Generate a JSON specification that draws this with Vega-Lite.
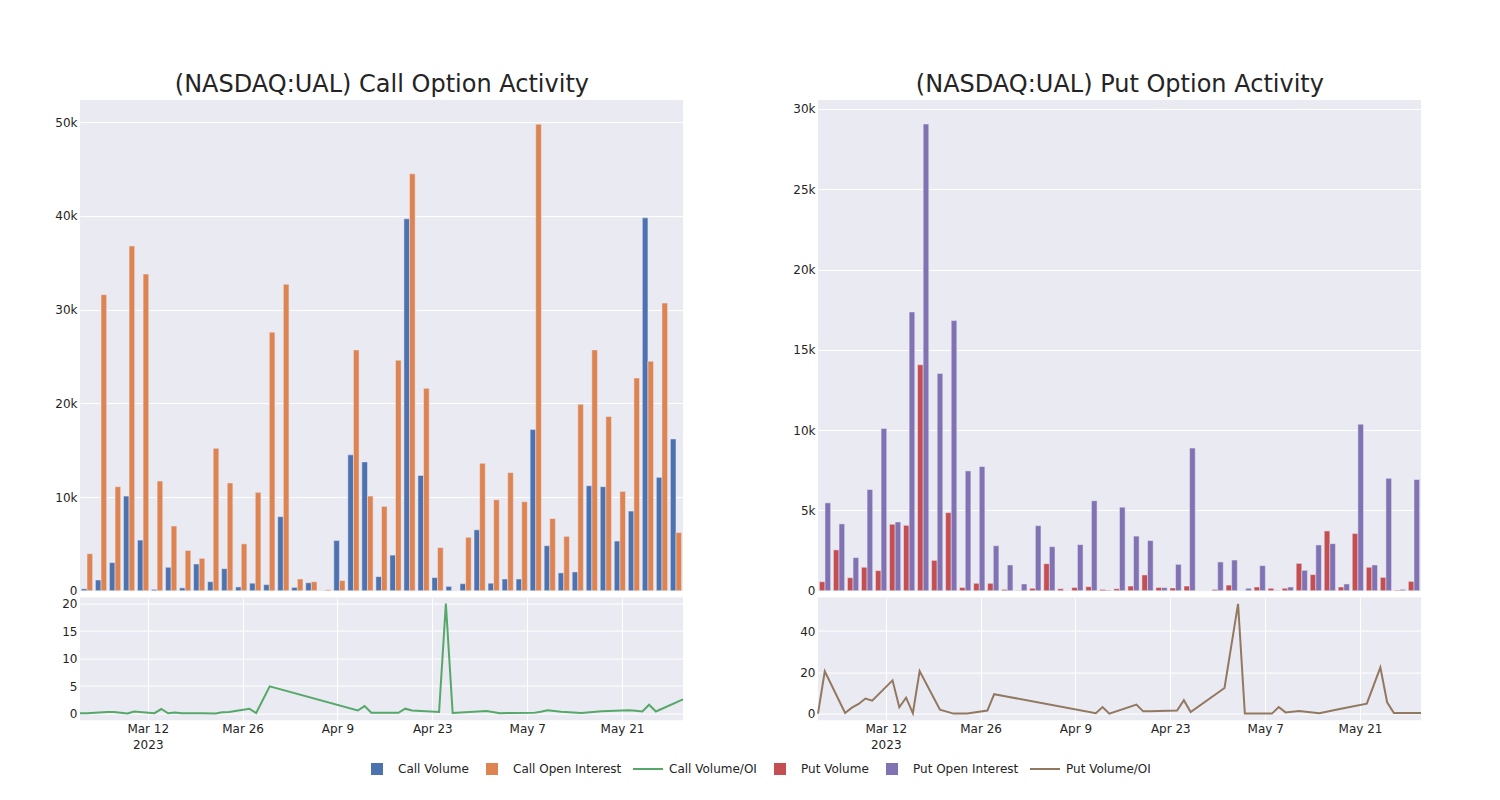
{
  "$schema": "https://vega.github.io/schema/vega-lite/v6.json",
  "background": "white",
  "padding": {"left": 54, "top": 73, "right": 78, "bottom": 10},
  "spacing": 105,
  "resolve": {"scale": {"xOffset": "independent"}},
  "datasets": {
    "d": [
      {"date": "2023-03-02", "Call Volume": 200, "Call Open Interest": 3950, "Put Volume": 560, "Put Open Interest": 5470, "Call Volume/OI": 0.05, "Put Volume/OI": 0},
      {"date": "2023-03-03", "Call Volume": 1140, "Call Open Interest": 31600, "Put Volume": 2540, "Put Open Interest": 4160, "Call Volume/OI": 0.04, "Put Volume/OI": 20.5},
      {"date": "2023-03-06", "Call Volume": 3000, "Call Open Interest": 11100, "Put Volume": 810, "Put Open Interest": 2060, "Call Volume/OI": 0.27, "Put Volume/OI": 0.3},
      {"date": "2023-03-07", "Call Volume": 10100, "Call Open Interest": 36800, "Put Volume": 1460, "Put Open Interest": 6300, "Call Volume/OI": 0.27, "Put Volume/OI": 2.9},
      {"date": "2023-03-08", "Call Volume": 5400, "Call Open Interest": 33800, "Put Volume": 1250, "Put Open Interest": 10100, "Call Volume/OI": 0.16, "Put Volume/OI": 4.7},
      {"date": "2023-03-09", "Call Volume": 140, "Call Open Interest": 11700, "Put Volume": 4140, "Put Open Interest": 4280, "Call Volume/OI": 0.01, "Put Volume/OI": 7.3},
      {"date": "2023-03-10", "Call Volume": 2500, "Call Open Interest": 6900, "Put Volume": 4070, "Put Open Interest": 17360, "Call Volume/OI": 0.36, "Put Volume/OI": 6.3},
      {"date": "2023-03-13", "Call Volume": 300, "Call Open Interest": 4300, "Put Volume": 14070, "Put Open Interest": 29060, "Call Volume/OI": 0.07, "Put Volume/OI": 16.1},
      {"date": "2023-03-14", "Call Volume": 2850, "Call Open Interest": 3450, "Put Volume": 1890, "Put Open Interest": 13530, "Call Volume/OI": 0.83, "Put Volume/OI": 3.1},
      {"date": "2023-03-15", "Call Volume": 960, "Call Open Interest": 15200, "Put Volume": 4860, "Put Open Interest": 16820, "Call Volume/OI": 0.06, "Put Volume/OI": 7.7},
      {"date": "2023-03-16", "Call Volume": 2350, "Call Open Interest": 11500, "Put Volume": 200, "Put Open Interest": 7460, "Call Volume/OI": 0.2, "Put Volume/OI": 0.2},
      {"date": "2023-03-17", "Call Volume": 400, "Call Open Interest": 5000, "Put Volume": 460, "Put Open Interest": 7730, "Call Volume/OI": 0.08, "Put Volume/OI": 20.6},
      {"date": "2023-03-20", "Call Volume": 800, "Call Open Interest": 10500, "Put Volume": 460, "Put Open Interest": 2800, "Call Volume/OI": 0.08, "Put Volume/OI": 1.9},
      {"date": "2023-03-22", "Call Volume": 650, "Call Open Interest": 27600, "Put Volume": 80, "Put Open Interest": 1600, "Call Volume/OI": 0.02, "Put Volume/OI": 0},
      {"date": "2023-03-23", "Call Volume": 7900, "Call Open Interest": 32700, "Put Volume": 20, "Put Open Interest": 420, "Call Volume/OI": 0.24, "Put Volume/OI": 0},
      {"date": "2023-03-24", "Call Volume": 350, "Call Open Interest": 1250, "Put Volume": 150, "Put Open Interest": 4050, "Call Volume/OI": 0.28, "Put Volume/OI": 0},
      {"date": "2023-03-27", "Call Volume": 850, "Call Open Interest": 960, "Put Volume": 1680, "Put Open Interest": 2740, "Call Volume/OI": 0.89, "Put Volume/OI": 1.5},
      {"date": "2023-03-28", "Call Volume": 10, "Call Open Interest": 100, "Put Volume": 120, "Put Open Interest": 10, "Call Volume/OI": 0.1, "Put Volume/OI": 9.4},
      {"date": "2023-03-30", "Call Volume": 5350, "Call Open Interest": 1080, "Put Volume": 200, "Put Open Interest": 2870, "Call Volume/OI": 4.95, "Put Volume/OI": 8.2},
      {"date": "2023-04-12", "Call Volume": 14500, "Call Open Interest": 25700, "Put Volume": 250, "Put Open Interest": 5600, "Call Volume/OI": 0.56, "Put Volume/OI": 0.2},
      {"date": "2023-04-13", "Call Volume": 13750, "Call Open Interest": 10100, "Put Volume": 80, "Put Open Interest": 40, "Call Volume/OI": 1.36, "Put Volume/OI": 3.2},
      {"date": "2023-04-14", "Call Volume": 1500, "Call Open Interest": 9000, "Put Volume": 120, "Put Open Interest": 5200, "Call Volume/OI": 0.17, "Put Volume/OI": 0},
      {"date": "2023-04-18", "Call Volume": 3800, "Call Open Interest": 24600, "Put Volume": 290, "Put Open Interest": 3400, "Call Volume/OI": 0.15, "Put Volume/OI": 4.4},
      {"date": "2023-04-19", "Call Volume": 39700, "Call Open Interest": 44500, "Put Volume": 980, "Put Open Interest": 3120, "Call Volume/OI": 0.89, "Put Volume/OI": 1.1},
      {"date": "2023-04-20", "Call Volume": 12300, "Call Open Interest": 21600, "Put Volume": 200, "Put Open Interest": 190, "Call Volume/OI": 0.57, "Put Volume/OI": 1.2},
      {"date": "2023-04-24", "Call Volume": 1400, "Call Open Interest": 4600, "Put Volume": 170, "Put Open Interest": 1640, "Call Volume/OI": 0.3, "Put Volume/OI": 1.5},
      {"date": "2023-04-25", "Call Volume": 460, "Call Open Interest": 23, "Put Volume": 290, "Put Open Interest": 8880, "Call Volume/OI": 20.0, "Put Volume/OI": 6.5},
      {"date": "2023-04-26", "Call Volume": 750, "Call Open Interest": 5700, "Put Volume": 0, "Put Open Interest": 0, "Call Volume/OI": 0.13, "Put Volume/OI": 0.8},
      {"date": "2023-05-01", "Call Volume": 6500, "Call Open Interest": 13600, "Put Volume": 80, "Put Open Interest": 1790, "Call Volume/OI": 0.48, "Put Volume/OI": 12.4},
      {"date": "2023-05-03", "Call Volume": 800, "Call Open Interest": 9700, "Put Volume": 350, "Put Open Interest": 1910, "Call Volume/OI": 0.08, "Put Volume/OI": 53.2},
      {"date": "2023-05-04", "Call Volume": 1250, "Call Open Interest": 12600, "Put Volume": 0, "Put Open Interest": 150, "Call Volume/OI": 0.1, "Put Volume/OI": 0},
      {"date": "2023-05-08", "Call Volume": 1250, "Call Open Interest": 9500, "Put Volume": 230, "Put Open Interest": 1560, "Call Volume/OI": 0.13, "Put Volume/OI": 0},
      {"date": "2023-05-09", "Call Volume": 17200, "Call Open Interest": 49800, "Put Volume": 150, "Put Open Interest": 20, "Call Volume/OI": 0.35, "Put Volume/OI": 3.2},
      {"date": "2023-05-10", "Call Volume": 4800, "Call Open Interest": 7700, "Put Volume": 150, "Put Open Interest": 230, "Call Volume/OI": 0.62, "Put Volume/OI": 0.6},
      {"date": "2023-05-12", "Call Volume": 1900, "Call Open Interest": 5800, "Put Volume": 1700, "Put Open Interest": 1270, "Call Volume/OI": 0.33, "Put Volume/OI": 1.3},
      {"date": "2023-05-15", "Call Volume": 2000, "Call Open Interest": 19900, "Put Volume": 1000, "Put Open Interest": 2850, "Call Volume/OI": 0.1, "Put Volume/OI": 0.2},
      {"date": "2023-05-18", "Call Volume": 11200, "Call Open Interest": 25700, "Put Volume": 3720, "Put Open Interest": 2930, "Call Volume/OI": 0.44, "Put Volume/OI": 2.2},
      {"date": "2023-05-22", "Call Volume": 11100, "Call Open Interest": 18600, "Put Volume": 230, "Put Open Interest": 420, "Call Volume/OI": 0.6, "Put Volume/OI": 4.8},
      {"date": "2023-05-23", "Call Volume": 5300, "Call Open Interest": 10600, "Put Volume": 3560, "Put Open Interest": 10370, "Call Volume/OI": 0.5, "Put Volume/OI": 13.6},
      {"date": "2023-05-24", "Call Volume": 8500, "Call Open Interest": 22700, "Put Volume": 1460, "Put Open Interest": 1600, "Call Volume/OI": 0.37, "Put Volume/OI": 22.4},
      {"date": "2023-05-25", "Call Volume": 39800, "Call Open Interest": 24500, "Put Volume": 830, "Put Open Interest": 7000, "Call Volume/OI": 1.62, "Put Volume/OI": 5.5},
      {"date": "2023-05-26", "Call Volume": 12100, "Call Open Interest": 30700, "Put Volume": 40, "Put Open Interest": 80, "Call Volume/OI": 0.39, "Put Volume/OI": 0.3},
      {"date": "2023-05-30", "Call Volume": 16200, "Call Open Interest": 6200, "Put Volume": 580, "Put Open Interest": 6920, "Call Volume/OI": 2.6, "Put Volume/OI": 0.3}
    ]
  },
  "hconcat": [
    {
      "title": {"text": "(NASDAQ:UAL) Call Option Activity", "dx": 11},
      "bounds": "flush",
      "spacing": 6.6,
      "vconcat": [
        {
          "data": {"name": "d"},
          "transform": [{"fold": ["Call Volume", "Call Open Interest"], "as": ["series", "value"]}],
          "width": 603,
          "height": 490.7,
          "mark": {"type": "bar", "stroke": "#EAEAF2", "strokeWidth": 0.5},
          "encoding": {
            "x": {"field": "date", "type": "ordinal", "scale": {"paddingInner": 0.2, "paddingOuter": 0.1},
                  "axis": {"labels": false, "ticks": false, "domain": false, "title": null, "grid": true, "bandPosition": 0.5,
                           "values": ["2023-03-02", "2023-03-16", "2023-04-13", "2023-05-04", "2023-05-25"]}},
            "xOffset": {"field": "series", "type": "nominal", "sort": ["Call Volume", "Call Open Interest"], "scale": {"paddingInner": 0, "paddingOuter": 0}},
            "y": {"field": "value", "type": "quantitative", "scale": {"domain": [0, 52380], "nice": false},
                  "axis": {"values": [0, 10000, 20000, 30000, 40000, 50000], "labelExpr": "datum.value == 0 ? '0' : (datum.value / 1000) + 'k'", "title": null}},
            "color": {"field": "series", "type": "nominal",
                      "scale": {"domain": ["Call Volume", "Call Open Interest", "Call Volume/OI", "Put Volume", "Put Open Interest", "Put Volume/OI"],
                                "range": ["#4C72B0", "#DD8452", "#55A868", "#C44E52", "#8172B3", "#937860"]},
                      "legend": {"title": null, "orient": "none", "legendX": 281, "legendY": 653, "direction": "horizontal", "columns": 6, "gridAlign": "none", "symbolSize": 900, "symbolStrokeWidth": 2, "labelOffset": 5, "columnPadding": 7,
                                 "labelFont": "DejaVu Sans", "labelFontSize": 12, "labelColor": "#242424"}}
          }
        },
        {
          "data": {"name": "d"},
          "transform": [{"fold": ["Call Volume/OI"], "as": ["series", "ratio"]}],
          "width": 603,
          "height": 122.7,
          "encoding": {
            "x": {"field": "date", "type": "temporal",
                  "scale": {"type": "utc", "domain": [{"year": 2023, "month": 3, "date": 2, "utc": true}, {"year": 2023, "month": 5, "date": 30, "utc": true}]},
                  "axis": {"title": null, "grid": true, "labelPadding": 3, "labelLineHeight": 16,
                           "values": [{"year": 2023, "month": 3, "date": 12, "utc": true}, {"year": 2023, "month": 3, "date": 26, "utc": true}, {"year": 2023, "month": 4, "date": 9, "utc": true}, {"year": 2023, "month": 4, "date": 23, "utc": true}, {"year": 2023, "month": 5, "date": 7, "utc": true}, {"year": 2023, "month": 5, "date": 21, "utc": true}],
                           "labelExpr": "utcFormat(datum.value, '%m%d') == '0312' ? [utcFormat(datum.value, '%b %-d'), '2023'] : utcFormat(datum.value, '%b %-d')"}},
            "y": {"field": "ratio", "type": "quantitative", "scale": {"domain": [-1.22, 21.09], "nice": false, "zero": false},
                  "axis": {"values": [0, 5, 10, 15, 20], "title": null}},
            "color": {"field": "series", "type": "nominal",
                      "scale": {"domain": ["Call Volume", "Call Open Interest", "Call Volume/OI", "Put Volume", "Put Open Interest", "Put Volume/OI"],
                                "range": ["#4C72B0", "#DD8452", "#55A868", "#C44E52", "#8172B3", "#937860"]}}
          },
          "layer": [
            {"mark": {"type": "line", "strokeWidth": 2}},
            {"transform": [{"filter": "false"}],
             "mark": {"type": "point", "filled": true},
             "encoding": {
               "shape": {"field": "series", "type": "nominal",
                         "scale": {"domain": ["Call Volume", "Call Open Interest", "Call Volume/OI", "Put Volume", "Put Open Interest", "Put Volume/OI"],
                                   "range": ["M-0.333,-0.333H0.333V0.333H-0.333Z", "M-0.333,-0.333H0.333V0.333H-0.333Z", "M-1,0H1", "M-0.333,-0.333H0.333V0.333H-0.333Z", "M-0.333,-0.333H0.333V0.333H-0.333Z", "M-1,0H1"]},
                         "legend": {"title": null, "orient": "none", "legendX": 281, "legendY": 653, "direction": "horizontal", "columns": 6, "gridAlign": "none", "symbolSize": 900, "symbolStrokeWidth": 2, "labelOffset": 5, "columnPadding": 7,
                                    "labelFont": "DejaVu Sans", "labelFontSize": 12, "labelColor": "#242424"}}
             }}
          ]
        }
      ]
    },
    {
      "title": {"text": "(NASDAQ:UAL) Put Option Activity", "dx": 11},
      "bounds": "flush",
      "spacing": 6.6,
      "vconcat": [
        {
          "data": {"name": "d"},
          "transform": [{"fold": ["Put Volume", "Put Open Interest"], "as": ["series", "value"]}],
          "width": 603,
          "height": 490.7,
          "mark": {"type": "bar", "stroke": "#EAEAF2", "strokeWidth": 0.5},
          "encoding": {
            "x": {"field": "date", "type": "ordinal", "scale": {"paddingInner": 0.2, "paddingOuter": 0.1},
                  "axis": {"labels": false, "ticks": false, "domain": false, "title": null, "grid": true, "bandPosition": 0.5,
                           "values": ["2023-03-02", "2023-03-16", "2023-04-13", "2023-05-04", "2023-05-25"]}},
            "xOffset": {"field": "series", "type": "nominal", "sort": ["Put Volume", "Put Open Interest"], "scale": {"paddingInner": 0, "paddingOuter": 0}},
            "y": {"field": "value", "type": "quantitative", "scale": {"domain": [0, 30560], "nice": false},
                  "axis": {"values": [0, 5000, 10000, 15000, 20000, 25000, 30000], "labelExpr": "datum.value == 0 ? '0' : (datum.value / 1000) + 'k'", "title": null}},
            "color": {"field": "series", "type": "nominal",
                      "scale": {"domain": ["Call Volume", "Call Open Interest", "Call Volume/OI", "Put Volume", "Put Open Interest", "Put Volume/OI"],
                                "range": ["#4C72B0", "#DD8452", "#55A868", "#C44E52", "#8172B3", "#937860"]}}
          }
        },
        {
          "data": {"name": "d"},
          "transform": [{"fold": ["Put Volume/OI"], "as": ["series", "ratio"]}],
          "width": 603,
          "height": 122.7,
          "mark": {"type": "line", "strokeWidth": 2},
          "encoding": {
            "x": {"field": "date", "type": "temporal",
                  "scale": {"type": "utc", "domain": [{"year": 2023, "month": 3, "date": 2, "utc": true}, {"year": 2023, "month": 5, "date": 30, "utc": true}]},
                  "axis": {"title": null, "grid": true, "labelPadding": 3, "labelLineHeight": 16,
                           "values": [{"year": 2023, "month": 3, "date": 12, "utc": true}, {"year": 2023, "month": 3, "date": 26, "utc": true}, {"year": 2023, "month": 4, "date": 9, "utc": true}, {"year": 2023, "month": 4, "date": 23, "utc": true}, {"year": 2023, "month": 5, "date": 7, "utc": true}, {"year": 2023, "month": 5, "date": 21, "utc": true}],
                           "labelExpr": "utcFormat(datum.value, '%m%d') == '0312' ? [utcFormat(datum.value, '%b %-d'), '2023'] : utcFormat(datum.value, '%b %-d')"}},
            "y": {"field": "ratio", "type": "quantitative", "scale": {"domain": [-3.24, 56.2], "nice": false, "zero": false},
                  "axis": {"values": [0, 20, 40], "title": null}},
            "color": {"field": "series", "type": "nominal",
                      "scale": {"domain": ["Call Volume", "Call Open Interest", "Call Volume/OI", "Put Volume", "Put Open Interest", "Put Volume/OI"],
                                "range": ["#4C72B0", "#DD8452", "#55A868", "#C44E52", "#8172B3", "#937860"]}}
          }
        }
      ]
    }
  ],
  "config": {
    "font": "DejaVu Sans",
    "view": {"fill": "#EAEAF2", "stroke": null},
    "axis": {"domain": false, "ticks": false, "gridColor": "white", "gridWidth": 1, "gridOpacity": 1,
             "labelFont": "DejaVu Sans", "labelFontSize": 12, "labelColor": "#242424", "labelPadding": 3},
    "title": {"font": "DejaVu Sans", "fontSize": 24, "fontWeight": "normal", "color": "#242424", "anchor": "middle", "offset": 3}
  }
}
